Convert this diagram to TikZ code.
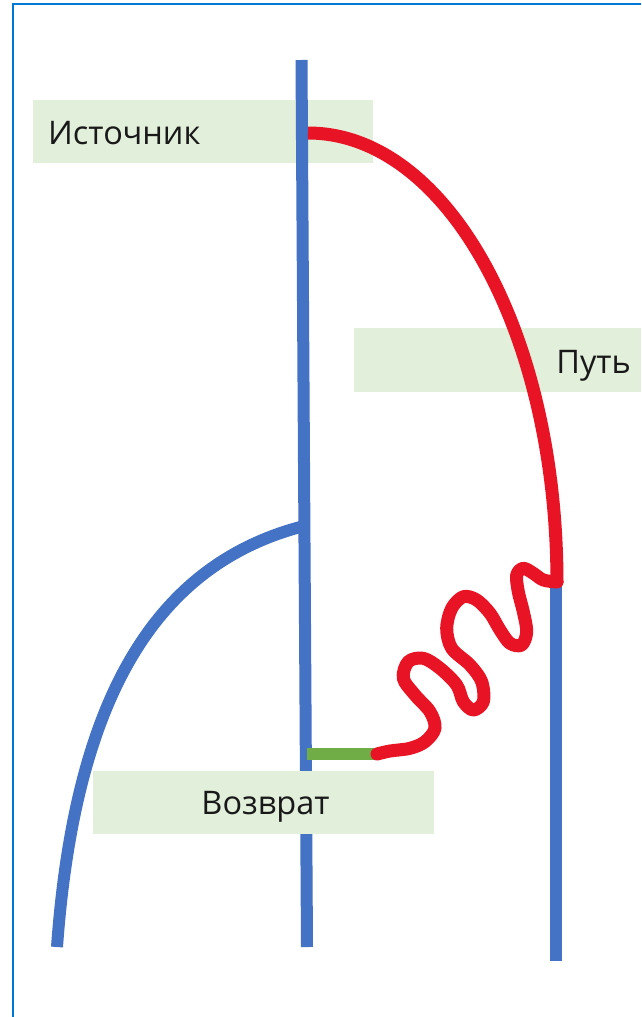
\documentclass[tikz,border=0pt]{standalone}
\usepackage{fontspec}
\setmainfont{Open Sans}
\definecolor{frameblue}{RGB}{0,120,215}
\definecolor{wireblue}{RGB}{68,114,196}
\definecolor{pathred}{RGB}{232,20,38}
\definecolor{retgreen}{RGB}{112,173,71}
\definecolor{boxgreen}{RGB}{226,239,218}
\tikzset{
  framel/.style={draw=frameblue, line width=1.5pt},
  wire/.style={draw=wireblue, line width=12pt, line cap=butt},
  redline/.style={draw=pathred, line width=13pt, line join=round},
  greenline/.style={draw=retgreen, line width=12pt},
  labelbox/.style={fill=boxgreen, draw=none, anchor=north west, inner sep=0pt},
  lbl/.style={inner sep=0pt, font=\fontsize{32.5}{38}\selectfont, text=black!90}
}
\begin{document}
\begin{tikzpicture}[x=1pt,y=-1pt]
\useasboundingbox (0,0) rectangle (641,1017);
\fill[white] (0,0) rectangle (641,1017);
% frame (left and top edges visible)
\coordinate (fbl) at (13,1017);
\coordinate (ftl) at (13,4);
\coordinate (ftr) at (641,4);
\draw[framel] (fbl) -- (ftl) -- (ftr);
% label boxes behind the wires
\node[labelbox, minimum width=340pt, minimum height=63pt] (srcbox) at (33,100) {};
\node[labelbox, minimum width=287pt, minimum height=64pt] (pathbox) at (354,328) {};
% middle wire
\coordinate (mtop) at (301.5,60);
\coordinate (mbot) at (307,947);
\draw[wire] (mtop) -- (mbot);
% left arc
\coordinate (ltop) at (304,526);
\coordinate (lbot) at (57,947);
\draw[wire] (ltop) .. controls (156,564) and (75,697) .. (lbot);
% return box in front of middle wire
\node[labelbox, minimum width=341pt, minimum height=63pt] (retbox) at (93,771) {};
\node[lbl, anchor=base] (ret) at (265.5,814) {Возврат};
% green segment
\coordinate (gl) at (307,754);
\coordinate (gr) at (380,754);
\draw[greenline] (gl) -- (gr);
% right wire
\coordinate (rtop) at (556,578);
\coordinate (rbot) at (556,961);
\draw[wire] (rtop) -- (rbot);
% red path arc
\coordinate (astart) at (308,133);
\coordinate (aend) at (557,583);
\draw[redline, line cap=butt] (astart) .. controls (446,133) and (557,331) .. (aend);
% squiggle
\draw[redline, line cap=round] plot[smooth, tension=0.55] coordinates {
 (557,582) (543.3,580) (533.3,573.3) (523.3,568.3) (516.7,575) (518.3,591.7)
 (523.3,611.7) (526.7,631.7) (521.7,645) (510,643.3) (500,630) (490,613.3)
 (476.7,600) (463.3,596.7) (451.7,608.3) (446.7,628.3) (451.7,648.3) (470,665)
 (481.7,681.7) (483.3,701.7) (473.3,710) (463.3,701.7) (456.7,685) (440,668.3)
 (423.3,658.3) (408.3,661.7) (403.3,678.3) (415,695) (430,711.7) (435,728.3)
 (425,741.7) (410,748.3) (390,751) (377,754)};
% labels
\node[lbl, anchor=base west] (src) at (48,144) {Источник};
\node[lbl, anchor=base east] (pth) at (631,373) {Путь};
\end{tikzpicture}
\end{document}
